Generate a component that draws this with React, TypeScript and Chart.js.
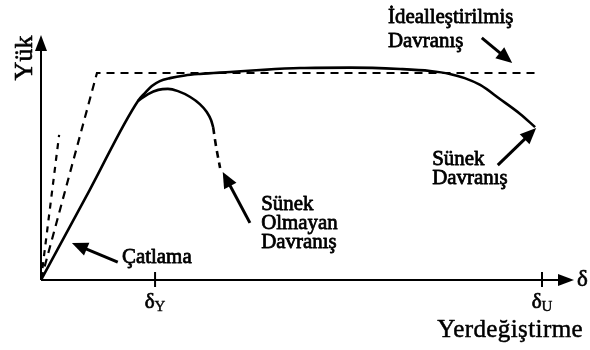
import { useEffect, useRef } from "react";
import { Chart, registerables } from "chart.js";

Chart.register(...registerables);

// ---- data (arbitrary schematic units: displacement 0..100, load 0..100) ----
const idealX = [0, 10.5, 93.1];
const idealY = [0, 84.5, 84.5];

const uncrackedX = [0, 3.4];
const uncrackedY = [0, 59.2];

const ductileX = [0, 9.1, 18.2, 19.5, 20.8, 22.3, 24.2, 27.0, 29.8, 35.5, 41.1, 48.6, 58.0, 67.4, 73.0, 76.7, 79.5, 82.4, 86.1, 89.9, 92.7];
const ductileY = [0, 36.6, 73.1, 76.3, 79.2, 81.2, 82.4, 83.5, 84.1, 84.9, 85.7, 86.5, 86.7, 86.1, 85.3, 84.1, 82.4, 79.6, 73.9, 67.8, 62.4];

const brittleX = [18.2, 20.1, 22.0, 23.8, 25.7, 28.0, 29.8, 31.1, 31.9, 32.3];
const brittleY = [73.1, 75.9, 77.6, 78.0, 77.1, 74.7, 71.8, 68.6, 65.3, 62.4];

const brittleDropX = [32.3, 32.8, 33.6];
const brittleDropY = [62.4, 55.1, 45.7];

const tickValues = [21.4, 94.0];
const tickLabels = ["δ", "δ"];
const tickSubs = ["Y", "U"];

const xAxisTitle = "Yerdeğiştirme";
const yAxisTitle = "Yük";
const xAxisEndLabel = "δ";

// annotations: text lines, text anchor (left, first-line baseline), arrow tail -> tip
const noteLines = [["Çatlama"], ["Sünek", "Olmayan", "Davranış"], ["Sünek", "Davranış"], ["İdealleştirilmiş", "Davranış"]];
const noteTextX = [15.2, 41.3, 73.4, 65.1];
const noteTextY = [7.0, 28.6, 46.9, 104.9];
const noteLineGap = [20, 19, 19, 24];
const arrowTailX = [14.4, 39.2, 85.7, 82.7];
const arrowTailY = [7.3, 23.3, 46.9, 98.8];
const arrowTipX = [5.8, 34.1, 92.9, 88.4];
const arrowTipY = [15.1, 44.1, 62.0, 88.6];

const toPts = (xs: number[], ys: number[]) => xs.map((x, i) => ({ x, y: ys[i] }));

const SERIF = "'Liberation Serif', 'Times New Roman', serif";

function arrowHead(ctx: CanvasRenderingContext2D, fx: number, fy: number, tx: number, ty: number, len: number, half: number) {
  const a = Math.atan2(ty - fy, tx - fx);
  const bx = tx - len * Math.cos(a);
  const by = ty - len * Math.sin(a);
  ctx.beginPath();
  ctx.moveTo(tx, ty);
  ctx.lineTo(bx + half * Math.sin(a), by - half * Math.cos(a));
  ctx.lineTo(bx - half * Math.sin(a), by + half * Math.cos(a));
  ctx.closePath();
  ctx.fill();
}

function heavyText(ctx: CanvasRenderingContext2D, t: string, x: number, y: number, w: number, sx = 1) {
  ctx.save();
  ctx.translate(x, y);
  ctx.scale(sx, 1);
  ctx.lineWidth = w;
  ctx.strokeText(t, 0, 0);
  ctx.fillText(t, 0, 0);
  ctx.restore();
}

const decorPlugin = {
  id: "decor",
  afterDraw(chart: any) {
    const ctx: CanvasRenderingContext2D = chart.ctx;
    const xs = chart.scales.x;
    const ys = chart.scales.y;
    const px = (v: number) => xs.getPixelForValue(v);
    const py = (v: number) => ys.getPixelForValue(v);
    ctx.save();
    ctx.fillStyle = "#000";
    ctx.strokeStyle = "#000";
    ctx.lineWidth = 2;
    ctx.setLineDash([]);
    ctx.lineJoin = "round";
    const x0 = px(0);
    const y0 = py(0);
    const xEnd = px(100);
    const yEnd = py(100);
    // axes
    ctx.beginPath();
    ctx.moveTo(x0, y0);
    ctx.lineTo(x0, yEnd + 12);
    ctx.moveTo(x0, y0);
    ctx.lineTo(xEnd - 12, y0);
    ctx.stroke();
    arrowHead(ctx, x0, y0, x0, yEnd, 16, 6);
    arrowHead(ctx, x0, y0, xEnd, y0, 16, 6);
    ctx.textBaseline = "alphabetic";
    ctx.textAlign = "left";
    // ticks
    tickValues.forEach((v, i) => {
      const tx = px(v);
      ctx.lineWidth = 2;
      ctx.beginPath();
      ctx.moveTo(tx, y0 - 8);
      ctx.lineTo(tx, y0 + 7);
      ctx.stroke();
      ctx.font = `21px ${SERIF}`;
      const w1 = ctx.measureText(tickLabels[i]).width;
      ctx.font = `15px ${SERIF}`;
      const w2 = ctx.measureText(tickSubs[i]).width;
      const left = tx - (w1 + w2) / 2;
      ctx.font = `21px ${SERIF}`;
      heavyText(ctx, tickLabels[i], left, y0 + 28, 0.7);
      ctx.font = `15px ${SERIF}`;
      heavyText(ctx, tickSubs[i], left + w1, y0 + 31, 0.4);
    });
    // axis end label
    ctx.font = `23px ${SERIF}`;
    heavyText(ctx, xAxisEndLabel, xEnd + 3, y0 + 6, 0.6);
    // x axis title
    ctx.font = `25px ${SERIF}`;
    ctx.textAlign = "right";
    (ctx as any).letterSpacing = "0.4px";
    heavyText(ctx, xAxisTitle, xEnd + 9, y0 + 57, 0.5);
    (ctx as any).letterSpacing = "0px";
    // y axis title
    ctx.save();
    ctx.translate(x0 - 9, yEnd + 23);
    ctx.rotate(-Math.PI / 2);
    ctx.textAlign = "center";
    ctx.font = `26px ${SERIF}`;
    heavyText(ctx, yAxisTitle, 0, 0, 0.6);
    ctx.restore();
    // annotations
    ctx.font = `22px ${SERIF}`;
    ctx.textAlign = "left";
    noteLines.forEach((lines, i) => {
      const lx = px(noteTextX[i]);
      const ly = py(noteTextY[i]);
      lines.forEach((t, j) => heavyText(ctx, t, lx, ly + j * noteLineGap[i], 0.8, 0.95));
      const fx = px(arrowTailX[i]);
      const fy = py(arrowTailY[i]);
      const tx = px(arrowTipX[i]);
      const ty = py(arrowTipY[i]);
      const a = Math.atan2(ty - fy, tx - fx);
      ctx.lineWidth = 3;
      ctx.beginPath();
      ctx.moveTo(fx, fy);
      ctx.lineTo(tx - 12 * Math.cos(a), ty - 12 * Math.sin(a));
      ctx.stroke();
      arrowHead(ctx, fx, fy, tx, ty, 16, 7);
    });
    ctx.restore();
  },
};

export default function App() {
  const ref = useRef<HTMLCanvasElement | null>(null);
  useEffect(() => {
    document.body.style.margin = "0";
    const canvas = ref.current;
    if (!canvas) return;
    const common = { pointRadius: 0, borderColor: "#000", fill: false, showLine: true };
    const chart = new Chart(canvas, {
      type: "scatter",
      data: {
        datasets: [
          { ...common, label: "Idealized", data: toPts(idealX, idealY), borderWidth: 2.2, borderDash: [8, 6], tension: 0 },
          { ...common, label: "Uncracked", data: toPts(uncrackedX, uncrackedY), borderWidth: 2.2, borderDash: [6, 6], tension: 0 },
          { ...common, label: "Ductile", data: toPts(ductileX, ductileY), borderWidth: 2.6, cubicInterpolationMode: "monotone" },
          { ...common, label: "Brittle", data: toPts(brittleX, brittleY), borderWidth: 2.6, cubicInterpolationMode: "monotone" },
          { ...common, label: "Brittle drop", data: toPts(brittleDropX, brittleDropY), borderWidth: 2.6, borderDash: [7, 5], cubicInterpolationMode: "monotone" },
        ],
      },
      options: {
        responsive: false,
        animation: false,
        events: [],
        layout: { padding: { left: 41, right: 16, top: 35, bottom: 70 } },
        plugins: { legend: { display: false }, tooltip: { enabled: false }, title: { display: false } },
        scales: {
          x: { type: "linear", min: 0, max: 100, display: false },
          y: { type: "linear", min: 0, max: 100, display: false },
        },
      } as any,
      plugins: [decorPlugin],
    });
    return () => chart.destroy();
  }, []);
  return (
    <div style={{ width: 590, height: 350, background: "#fff" }}>
      <canvas ref={ref} width={590} height={350} style={{ display: "block" }} />
    </div>
  );
}
